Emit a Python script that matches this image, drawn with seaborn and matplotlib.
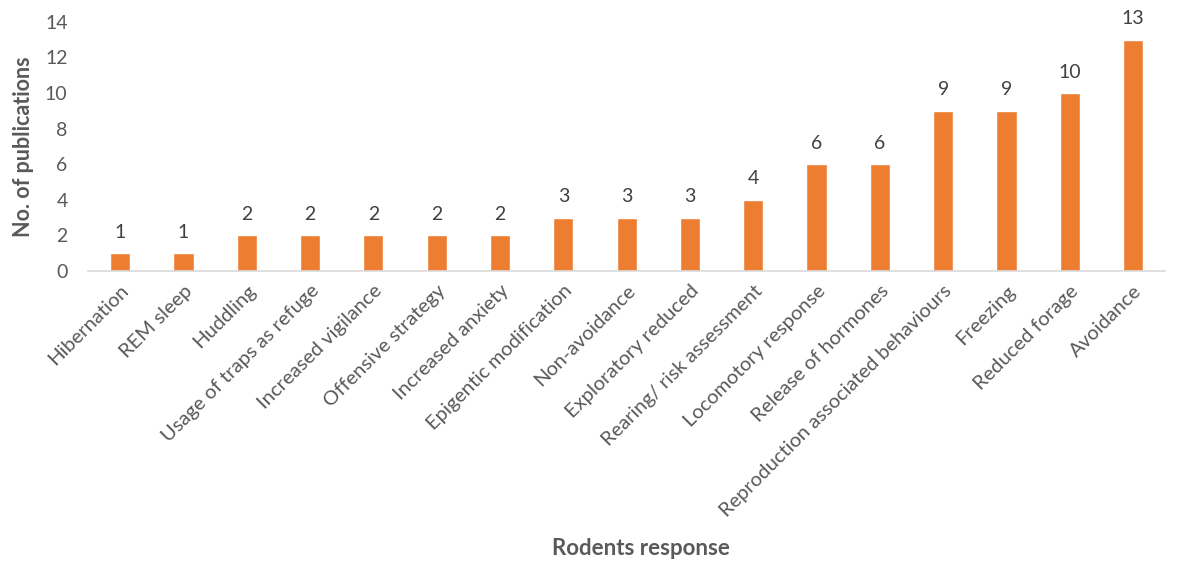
import matplotlib
matplotlib.use("Agg")
import matplotlib.pyplot as plt
import seaborn as sns
import pandas as pd

categories = ["Hibernation", "REM sleep", "Huddling", "Usage of traps as refuge",
              "Increased vigilance", "Offensive strategy", "Increased anxiety",
              "Epigentic modification", "Non-avoidance", "Exploratory reduced",
              "Rearing/ risk assessment", "Locomotory response", "Release of hormones",
              "Reproduction associated behaviours", "Freezing", "Reduced forage",
              "Avoidance"]
values = [1, 1, 2, 2, 2, 2, 2, 3, 3, 3, 4, 6, 6, 9, 9, 10, 13]
yticks = [0, 2, 4, 6, 8, 10, 12, 14]

sns.set_theme(style="white")
plt.rcParams['font.family'] = ['Lato', 'DejaVu Sans']

df = pd.DataFrame({"cat": categories, "val": values})
fig = plt.figure(figsize=(11.79, 5.61), dpi=100)
ax = fig.add_axes([0.075, 0.517, 0.913, 0.444])
sns.barplot(data=df, x="cat", y="val", color="#ED7D31", saturation=1, width=0.32, ax=ax)

ax.set_ylim(0, 14)
ax.set_xlim(-0.5, len(categories) - 0.5)
ax.set_yticks(yticks)
ax.set_yticklabels([str(t) for t in yticks], fontsize=14, color="#595959")
ax.set_xticks(range(len(categories)))
ax.set_xticklabels(categories, rotation=45, ha="right", rotation_mode="anchor",
                   fontsize=14.5, color="#595959")
ax.tick_params(axis="y", length=0, pad=15)
ax.tick_params(axis="x", length=0, pad=8)

for c in ax.containers:
    ax.bar_label(c, fontsize=14, color="#404040", padding=9)

for s in ["top", "right", "left"]:
    ax.spines[s].set_visible(False)
ax.spines["bottom"].set_color("#D9D9D9")
ax.spines["bottom"].set_linewidth(1.2)

ax.set_xlabel("")
ax.set_ylabel("No. of publications", fontsize=15.5, fontweight="bold", color="#595959", labelpad=8)
fig.text(0.544, 0.004, "Rodents response", fontsize=16, fontweight="bold",
         color="#595959", ha="center", va="bottom")

fig.savefig("out.png", dpi=100)
